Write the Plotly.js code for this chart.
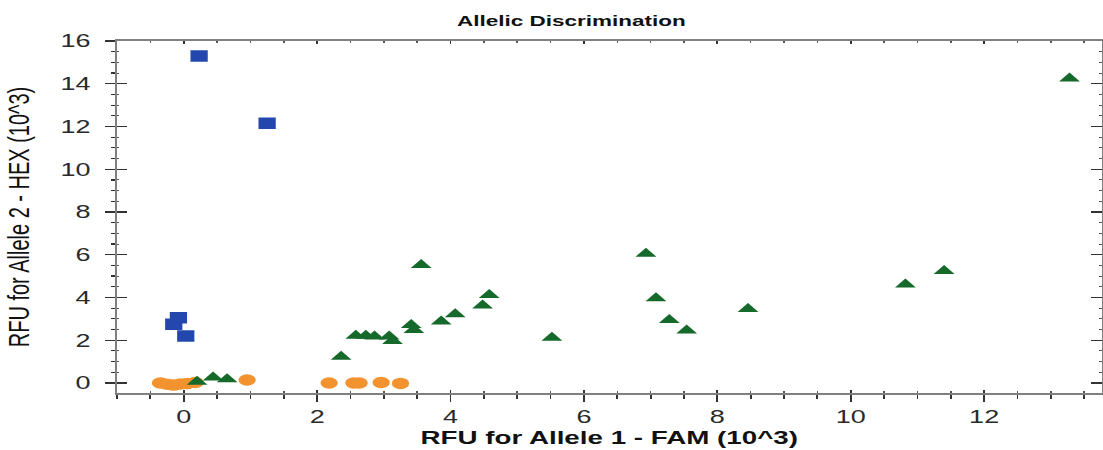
<!DOCTYPE html>
<html>
<head>
<meta charset="utf-8">
<script src="https://cdn.plot.ly/plotly-3.0.1.min.js"></script>
<style>
  html, body { margin: 0; padding: 0; background: #ffffff; overflow: hidden; }
  #chart { width: 735px; height: 450px; transform: scaleX(1.5007); transform-origin: 0 0; }
</style>
</head>
<body>
<div id="chart"></div>
<script>
// Allele 2 (HEX) calls - blue squares
const hexX = [0.23, 1.25, -0.08, -0.15, 0.03];
const hexY = [15.3, 12.15, 3.05, 2.75, 2.2];

// No call / NTC - orange circles
const ntcX = [-0.35, -0.25, -0.15, -0.05, 0.05, 0.17, 0.95, 2.18, 2.55, 2.63, 2.96, 3.25];
const ntcY = [0.0, -0.06, -0.1, -0.05, -0.03, 0.02, 0.14, 0.0, 0.0, 0.0, 0.02, -0.02];

// Allele 1 (FAM) / heterozygous - green triangles
const famX = [0.20, 0.44, 0.65, 2.36, 2.58, 2.73, 2.86, 3.08, 3.13, 3.41, 3.45, 3.56, 3.86, 4.07, 4.48, 4.58, 5.52, 6.93, 7.08, 7.28, 7.54, 8.46, 10.82, 11.40, 13.28];
const famY = [0.06, 0.26, 0.17, 1.23, 2.21, 2.21, 2.17, 2.17, 1.96, 2.71, 2.48, 5.52, 2.87, 3.21, 3.62, 4.11, 2.12, 6.05, 3.96, 2.95, 2.45, 3.46, 4.61, 5.24, 14.25];

// Axis settings
const xRange = [-1, 13.76];
const yRange = [-0.47, 16];
const xTickVals = [0, 2, 4, 6, 8, 10, 12];
const yTickVals = [0, 2, 4, 6, 8, 10, 12, 14, 16];

const blue = '#2447ad';
const orange = '#f29330';
const green = '#15692b';

const traces = [
  { x: ntcX, y: ntcY, type: 'scatter', mode: 'markers', name: 'NTC',
    marker: { symbol: 'circle', size: 11.5, color: orange } },
  { x: famX, y: famY, type: 'scatter', mode: 'markers', name: 'Allele 1',
    marker: { symbol: 'triangle-up', size: 12, color: green } },
  { x: hexX, y: hexY, type: 'scatter', mode: 'markers', name: 'Allele 2',
    marker: { symbol: 'square', size: 11.5, color: blue } },
  { x: [], y: [], xaxis: 'x2', yaxis: 'y2', type: 'scatter', mode: 'markers', showlegend: false }
];

const tickFont = { family: 'Liberation Sans, Arial, sans-serif', size: 18, color: '#2a2a2a' };

const layout = {
  width: 735,
  height: 450,
  margin: { l: 78, r: 1, t: 41, b: 57 },
  paper_bgcolor: '#ffffff',
  plot_bgcolor: '#ffffff',
  showlegend: false,
  title: {
    text: 'Allelic Discrimination',
    font: { family: 'Liberation Sans, Arial, sans-serif', size: 15, weight: 700, color: '#111' },
    xref: 'container', yref: 'container', x: 0.518, y: 0.953, xanchor: 'center', yanchor: 'middle'
  },
  xaxis: {
    range: xRange, tickvals: xTickVals, ticktext: xTickVals.map(String),
    ticks: 'outside', ticklen: 7, tickwidth: 1.2, tickcolor: '#333',
    minor: { ticks: 'outside', ticklen: 4, dtick: 0.5, tick0: 0, tickcolor: '#333', tickwidth: 1.2 },
    showline: true, linecolor: '#808080', linewidth: 1.6, mirror: true,
    showgrid: false, zeroline: false,
    tickfont: tickFont,
    title: { text: 'RFU for Allele 1 - FAM (10^3)', standoff: 5,
      font: { family: 'Liberation Sans, Arial, sans-serif', size: 18.5, weight: 700, color: '#111' } }
  },
  xaxis2: {
    overlaying: 'x', anchor: 'y', side: 'bottom', range: xRange,
    tickvals: xTickVals, showticklabels: false,
    ticks: 'inside', ticklen: 3, tickwidth: 1.2, tickcolor: '#333',
    minor: { ticks: 'inside', ticklen: 2, dtick: 0.5, tick0: 0, tickcolor: '#555', tickwidth: 1 },
    mirror: 'ticks', showline: false, showgrid: false, zeroline: false
  },
  yaxis: {
    range: yRange, tickvals: yTickVals, ticktext: yTickVals.map(String),
    ticks: 'outside', ticklen: 6.7, tickwidth: 1.2, tickcolor: '#333',
    minor: { ticks: 'outside', ticklen: 2.5, dtick: 0.5, tick0: 0, tickcolor: '#333', tickwidth: 1.2 },
    showline: true, linecolor: '#808080', linewidth: 1.3, mirror: true,
    showgrid: false, zeroline: false,
    tickfont: tickFont, ticklabelstandoff: 6,
    title: { text: 'RFU for Allele 2 - HEX (10^3)', standoff: 15,
      font: { family: 'Liberation Sans, Arial, sans-serif', size: 20, color: '#111' } }
  },
  yaxis2: {
    overlaying: 'y', anchor: 'x', side: 'left', range: yRange,
    tickvals: yTickVals, showticklabels: false,
    ticks: 'inside', ticklen: 6.7, tickwidth: 1.2, tickcolor: '#333',
    minor: { ticks: 'inside', ticklen: 1.5, dtick: 0.5, tick0: 0, tickcolor: '#555', tickwidth: 1 },
    mirror: 'ticks', showline: false, showgrid: false, zeroline: false
  }
};

Plotly.newPlot('chart', traces, layout, { staticPlot: true, displayModeBar: false });
</script>
</body>
</html>
